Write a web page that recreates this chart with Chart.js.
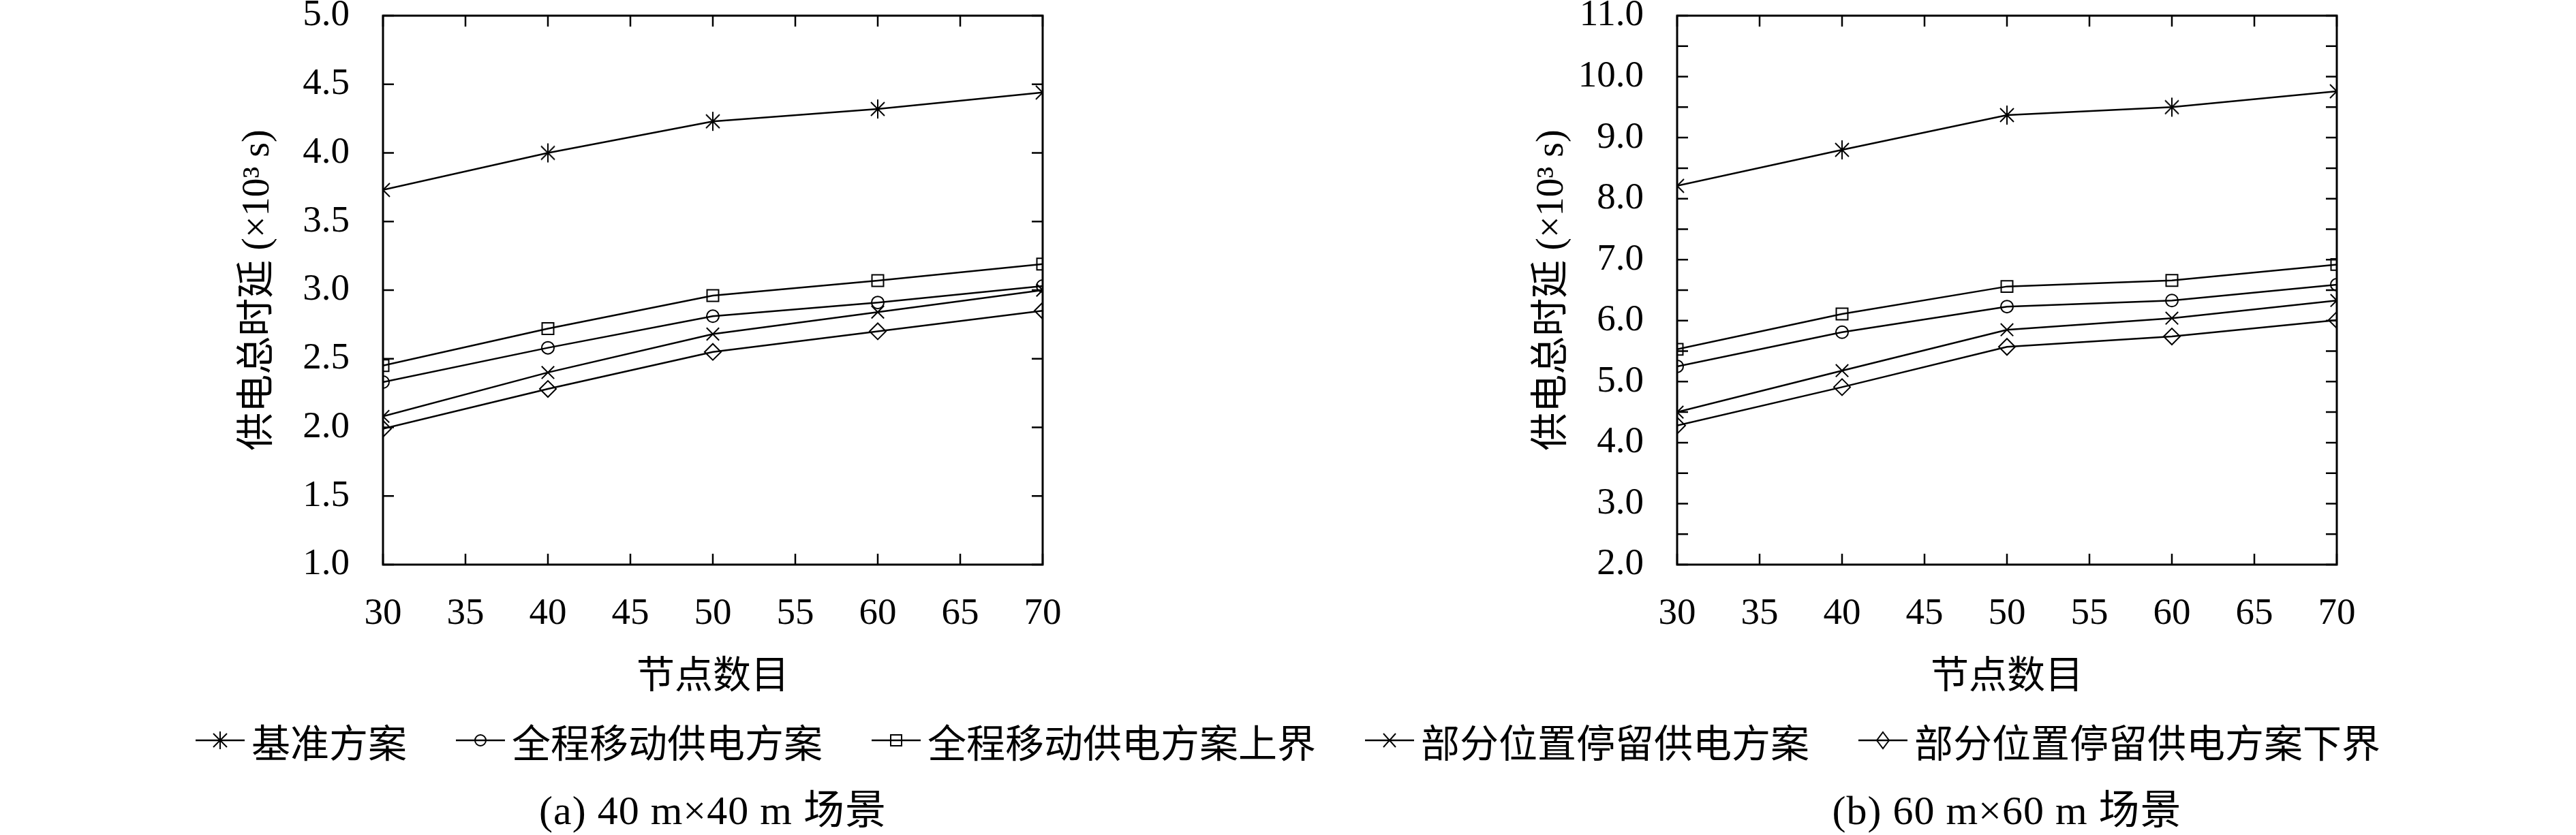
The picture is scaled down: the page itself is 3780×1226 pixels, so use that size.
<!DOCTYPE html>
<html>
<head>
<meta charset="utf-8">
<script src="https://cdn.jsdelivr.net/npm/chart.js@4.4.1/dist/chart.umd.min.js"></script>
<style>
  body { margin: 0; background: #fff; width: 3780px; height: 1226px; position: relative; overflow: hidden;
         font-family: "Liberation Serif", "Noto Sans CJK SC", serif; color: #000; }
  canvas { position: absolute; top: 0; }
  #legend { position: absolute; left: 0; top: 1050px; width: 3780px; height: 74px; display: flex;
            justify-content: center; align-items: center; font-size: 57px; white-space: nowrap; }
  .item { display: flex; align-items: center; margin: 0 36px; }
  .item svg { margin-right: 10px; }
  .cap { position: absolute; top: 1155px; width: 900px; text-align: center; font-size: 60px; line-height: 70px;
         letter-spacing: 1px; white-space: nowrap; }
</style>
</head>
<body>
<canvas id="chartA" width="1700" height="1040" style="left:0"></canvas>
<canvas id="chartB" width="1700" height="1040" style="left:1899px"></canvas>
<div id="legend"></div>
<div class="cap" style="left:596px">(a) 40 m×40 m 场景</div>
<div class="cap" style="left:2495px">(b) 60 m×60 m 场景</div>
<script>
// 横轴：节点数目
const nodes = [30, 40, 50, 60, 70];
const seriesNames = ['基准方案', '全程移动供电方案', '全程移动供电方案上界', '部分位置停留供电方案', '部分位置停留供电方案下界'];

// (a) 40 m×40 m 场景，单位 ×10^3 s
const aBase = [3.73, 4.00, 4.23, 4.32, 4.44];
const aFull = [2.33, 2.58, 2.81, 2.91, 3.03];
const aFullUpper = [2.45, 2.72, 2.96, 3.07, 3.19];
const aPartial = [2.08, 2.40, 2.68, 2.84, 3.00];
const aPartialLower = [1.99, 2.28, 2.55, 2.70, 2.85];

// (b) 60 m×60 m 场景
const bBase = [8.21, 8.80, 9.37, 9.50, 9.76];
const bFull = [5.25, 5.81, 6.23, 6.33, 6.59];
const bFullUpper = [5.53, 6.11, 6.56, 6.66, 6.92];
const bPartial = [4.50, 5.18, 5.85, 6.04, 6.33];
const bPartialLower = [4.28, 4.91, 5.57, 5.74, 6.01];

// 坐标轴范围与刻度
const xRange = [30, 70], xStep = 5;
const yRangeA = [1, 5], yTickStepA = 0.5, yLabelStepA = 0.5;
const yRangeB = [2, 11], yTickStepB = 0.5, yLabelStepB = 1;

const FONT = '"Liberation Serif", "Noto Sans CJK SC", serif';

// 星号标记 (竖线 + ×)
function asterisk() {
  const c = document.createElement('canvas');
  c.width = 28; c.height = 30;
  const g = c.getContext('2d');
  g.strokeStyle = '#000'; g.lineWidth = 2;
  g.beginPath();
  g.moveTo(14, 1); g.lineTo(14, 29);
  g.moveTo(4, 5); g.lineTo(24, 25);
  g.moveTo(24, 5); g.lineTo(4, 25);
  g.stroke();
  return c;
}
const markers = [asterisk(), 'circle', 'rect', 'crossRot', 'rectRot'];
const radii = [12, 9, 12, 13, 12];

// 边框 + 内向刻度
const frameTicks = {
  id: 'frameTicks',
  afterDatasetsDraw(chart) {
    const { ctx, chartArea: a, scales: { x, y } } = chart;
    ctx.save();
    ctx.strokeStyle = '#000';
    ctx.lineWidth = 2.5;
    ctx.beginPath();
    x.ticks.forEach(t => {
      const px = x.getPixelForValue(t.value);
      ctx.moveTo(px, a.bottom); ctx.lineTo(px, a.bottom - 16);
      ctx.moveTo(px, a.top); ctx.lineTo(px, a.top + 16);
    });
    y.ticks.forEach(t => {
      const py = y.getPixelForValue(t.value);
      ctx.moveTo(a.left, py); ctx.lineTo(a.left + 16, py);
      ctx.moveTo(a.right, py); ctx.lineTo(a.right - 16, py);
    });
    ctx.stroke();
    ctx.lineWidth = 3;
    ctx.strokeRect(a.left, a.top, a.right - a.left, a.bottom - a.top);
    ctx.restore();
  }
};

function makeChart(id, series, yRange, tickStep, labelStep) {
  const datasets = series.map((vals, i) => ({
    label: seriesNames[i],
    data: nodes.map((n, k) => ({ x: n, y: vals[k] })),
    borderColor: '#000',
    borderWidth: 2.5,
    pointStyle: markers[i],
    pointRadius: radii[i],
    pointBorderWidth: 2,
    pointBorderColor: '#000',
    pointBackgroundColor: 'rgba(0,0,0,0)',
    clip: 0,
    tension: 0
  }));
  return new Chart(document.getElementById(id), {
    type: 'line',
    data: { datasets },
    options: {
      responsive: false,
      devicePixelRatio: 1,
      animation: false,
      layout: { autoPadding: false, padding: { top: 23, right: 170, left: 0, bottom: 0 } },
      plugins: { legend: { display: false }, tooltip: { enabled: false } },
      scales: {
        x: {
          type: 'linear', min: xRange[0], max: xRange[1],
          grid: { display: false, drawTicks: false },
          border: { display: false },
          ticks: { stepSize: xStep, autoSkip: false, padding: 40, color: '#000',
                   font: { family: FONT, size: 55 }, maxRotation: 0 },
          title: { display: true, text: '节点数目', color: '#000',
                   font: { family: FONT, size: 56 }, padding: { bottom: 11 } },
          afterFit: s => { s.height = 1040 - 829; s.paddingLeft = 0; s.paddingRight = 0; }
        },
        y: {
          type: 'linear', min: yRange[0], max: yRange[1],
          grid: { display: false, drawTicks: false },
          border: { display: false },
          ticks: { stepSize: tickStep, autoSkip: false, maxTicksLimit: 100, padding: 49, color: '#000',
                   font: { family: FONT, size: 55 },
                   callback: v => {
                     const r = v / labelStep;
                     return Math.abs(r - Math.round(r)) < 1e-6 ? v.toFixed(1) : '';
                   } },
          title: { display: true, text: '供电总时延 (×10³ s)', color: '#000',
                   font: { family: FONT, size: 56 }, padding: { top: 346 } },
          afterFit: s => { s.width = 562; s.paddingTop = 0; s.paddingBottom = 0; }
        }
      }
    },
    plugins: [frameTicks]
  });
}

makeChart('chartA', [aBase, aFull, aFullUpper, aPartial, aPartialLower], yRangeA, yTickStepA, yLabelStepA);
makeChart('chartB', [bBase, bFull, bFullUpper, bPartial, bPartialLower], yRangeB, yTickStepB, yLabelStepB);

// 图例 (共用)
const swatchMarks = [
  '<path d="M36 7V33M26 10L46 30M46 10L26 30" stroke="#000" stroke-width="2" fill="none"/>',
  '<circle cx="36" cy="20" r="8" stroke="#000" stroke-width="2" fill="none"/>',
  '<rect x="28" y="12" width="16" height="16" stroke="#000" stroke-width="2" fill="none"/>',
  '<path d="M27 10L45 30M45 10L27 30" stroke="#000" stroke-width="2" fill="none"/>',
  '<path d="M36 8L45 20L36 32L27 20Z" stroke="#000" stroke-width="2" fill="none"/>'
];
document.getElementById('legend').innerHTML = seriesNames.map((name, i) =>
  `<span class="item"><svg width="72" height="40" viewBox="0 0 72 40">` +
  `<line x1="0" y1="20" x2="72" y2="20" stroke="#000" stroke-width="2.5"/>${swatchMarks[i]}</svg>` +
  `<span>${name}</span></span>`).join('');
</script>
</body>
</html>
